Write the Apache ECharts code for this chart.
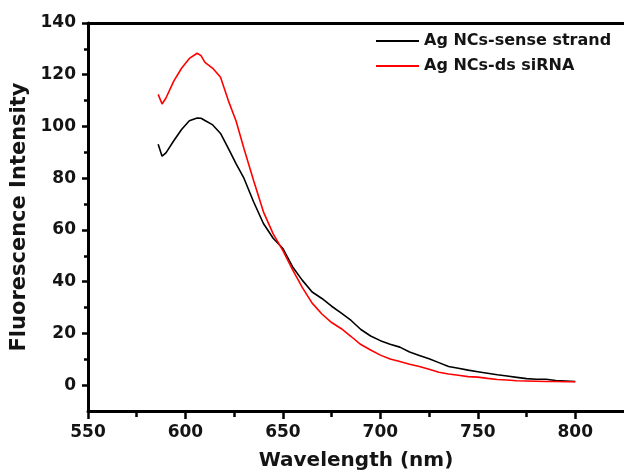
<!DOCTYPE html>
<html>
<head>
<meta charset="utf-8">
<script src="https://cdn.jsdelivr.net/npm/echarts@6/dist/echarts.min.js"></script>
<style>
  html, body { margin: 0; padding: 0; background: #fff; }
  #chart { width: 624px; height: 476px; }
</style>
</head>
<body>
<div id="chart"></div>
<script>
// wavelength (nm)
var wavelength = [586, 588, 590, 594, 598, 602, 606, 608, 610, 614, 618, 622, 626, 630, 635, 640, 645, 650, 655, 660,
  665, 670, 675, 680, 685, 690, 695, 700, 705, 710, 715, 720, 725, 730, 735, 740, 745, 750, 755, 760,
  765, 770, 775, 780, 785, 790, 795, 800];
// Ag NCs-sense strand
var senseStrand = [93.1, 88.5, 89.8, 94.5, 98.8, 102.2, 103.3, 103.2, 102.3, 100.6, 97.3, 91.5, 85.5, 80, 70.8, 62.5, 56.8, 52.8, 45.7, 40.5,
  36, 33.5, 30.5, 27.8, 25, 21.5, 19, 17.2, 15.8, 14.7, 12.8, 11.5, 10.2, 8.7, 7.2, 6.5, 5.8, 5.2, 4.6, 4.0,
  3.5, 3.0, 2.5, 2.3, 2.3, 1.8, 1.6, 1.4];
// Ag NCs-ds siRNA
var dsSiRNA = [112.4, 108.7, 111, 117.5, 122.5, 126.3, 128.3, 127.4, 124.8, 122.5, 119, 110, 102, 91.5, 79, 67, 58.5, 52, 44.6, 37.7,
  31.7, 27.5, 24.2, 21.8, 18.8, 15.7, 13.6, 11.6, 10.1, 9.1, 8.1, 7.2, 6.1, 5.0, 4.3, 3.8, 3.3, 3.1, 2.6, 2.2,
  2.0, 1.7, 1.6, 1.5, 1.4, 1.4, 1.3, 1.3];

var xTicks = [550, 600, 650, 700, 750, 800];
var xMinorTicks = [575, 625, 675, 725, 775];
var yTicks = [0, 20, 40, 60, 80, 100, 120, 140];
var yMinorTicks = [10, 30, 50, 70, 90, 110, 130];

function pairs(xs, ys) {
  return xs.map(function (x, i) { return [x, ys[i]]; });
}

var chart = echarts.init(document.getElementById('chart'));
var font = 'DejaVu Sans';
var ink = '#141414';

var option = {
  animation: false,
  grid: { left: 88, top: 23, width: 539, height: 390 },
  legend: {
    orient: 'vertical',
    left: 371, top: 28,
    icon: 'rect',
    itemWidth: 43, itemHeight: 2, itemGap: 9,
    textStyle: { fontFamily: font, fontWeight: 'bold', fontSize: 16, color: ink },
    data: ['Ag NCs-sense strand', 'Ag NCs-ds siRNA']
  },
  xAxis: [
    {
      type: 'value', min: 550, max: 825,
      name: 'Wavelength (nm)', nameLocation: 'middle', nameGap: 40,
      nameTextStyle: { fontFamily: font, fontWeight: 'bold', fontSize: 20, color: ink },
      axisLine: { onZero: false, lineStyle: { color: '#000', width: 3 } },
      axisTick: { customValues: xTicks, length: 8, lineStyle: { color: '#000', width: 2.5 } },
      axisLabel: { customValues: xTicks, margin: 13, fontFamily: font, fontWeight: 'bold', fontSize: 17, color: ink },
      splitLine: { show: false }
    },
    {
      // minor ticks along the bottom
      type: 'value', min: 550, max: 825, position: 'bottom',
      axisLine: { show: false, onZero: false },
      axisTick: { customValues: xMinorTicks, length: 6, lineStyle: { color: '#000', width: 2.5 } },
      axisLabel: { show: false },
      splitLine: { show: false }
    },
    {
      // top frame line
      type: 'value', min: 550, max: 825, position: 'top',
      axisLine: { onZero: false, lineStyle: { color: '#000', width: 3 } },
      axisTick: { show: false },
      axisLabel: { show: false },
      splitLine: { show: false }
    }
  ],
  yAxis: [
    {
      type: 'value', min: -10, max: 140,
      name: 'Fluorescence Intensity', nameLocation: 'middle', nameGap: 53,
      nameTextStyle: { fontFamily: font, fontWeight: 'bold', fontSize: 21, color: ink },
      axisLine: { onZero: false, lineStyle: { color: '#000', width: 3 } },
      axisTick: { customValues: yTicks, length: 6, lineStyle: { color: '#000', width: 2.5 } },
      axisLabel: { customValues: yTicks, margin: 12, fontFamily: font, fontWeight: 'bold', fontSize: 17, color: ink },
      splitLine: { show: false }
    },
    {
      // minor ticks along the left
      type: 'value', min: -10, max: 140, position: 'left',
      axisLine: { show: false, onZero: false },
      axisTick: { customValues: yMinorTicks, length: 4, lineStyle: { color: '#000', width: 2.5 } },
      axisLabel: { show: false },
      splitLine: { show: false }
    }
  ],
  series: [
    {
      name: 'Ag NCs-sense strand', type: 'line',
      xAxisIndex: 0, yAxisIndex: 0,
      data: pairs(wavelength, senseStrand),
      symbol: 'none',
      lineStyle: { color: '#000', width: 1.6 },
      itemStyle: { color: '#000' }
    },
    {
      name: 'Ag NCs-ds siRNA', type: 'line',
      xAxisIndex: 0, yAxisIndex: 0,
      data: pairs(wavelength, dsSiRNA),
      symbol: 'none',
      lineStyle: { color: '#ff0000', width: 1.6 },
      itemStyle: { color: '#ff0000' }
    }
  ]
};

chart.setOption(option);
</script>
</body>
</html>
